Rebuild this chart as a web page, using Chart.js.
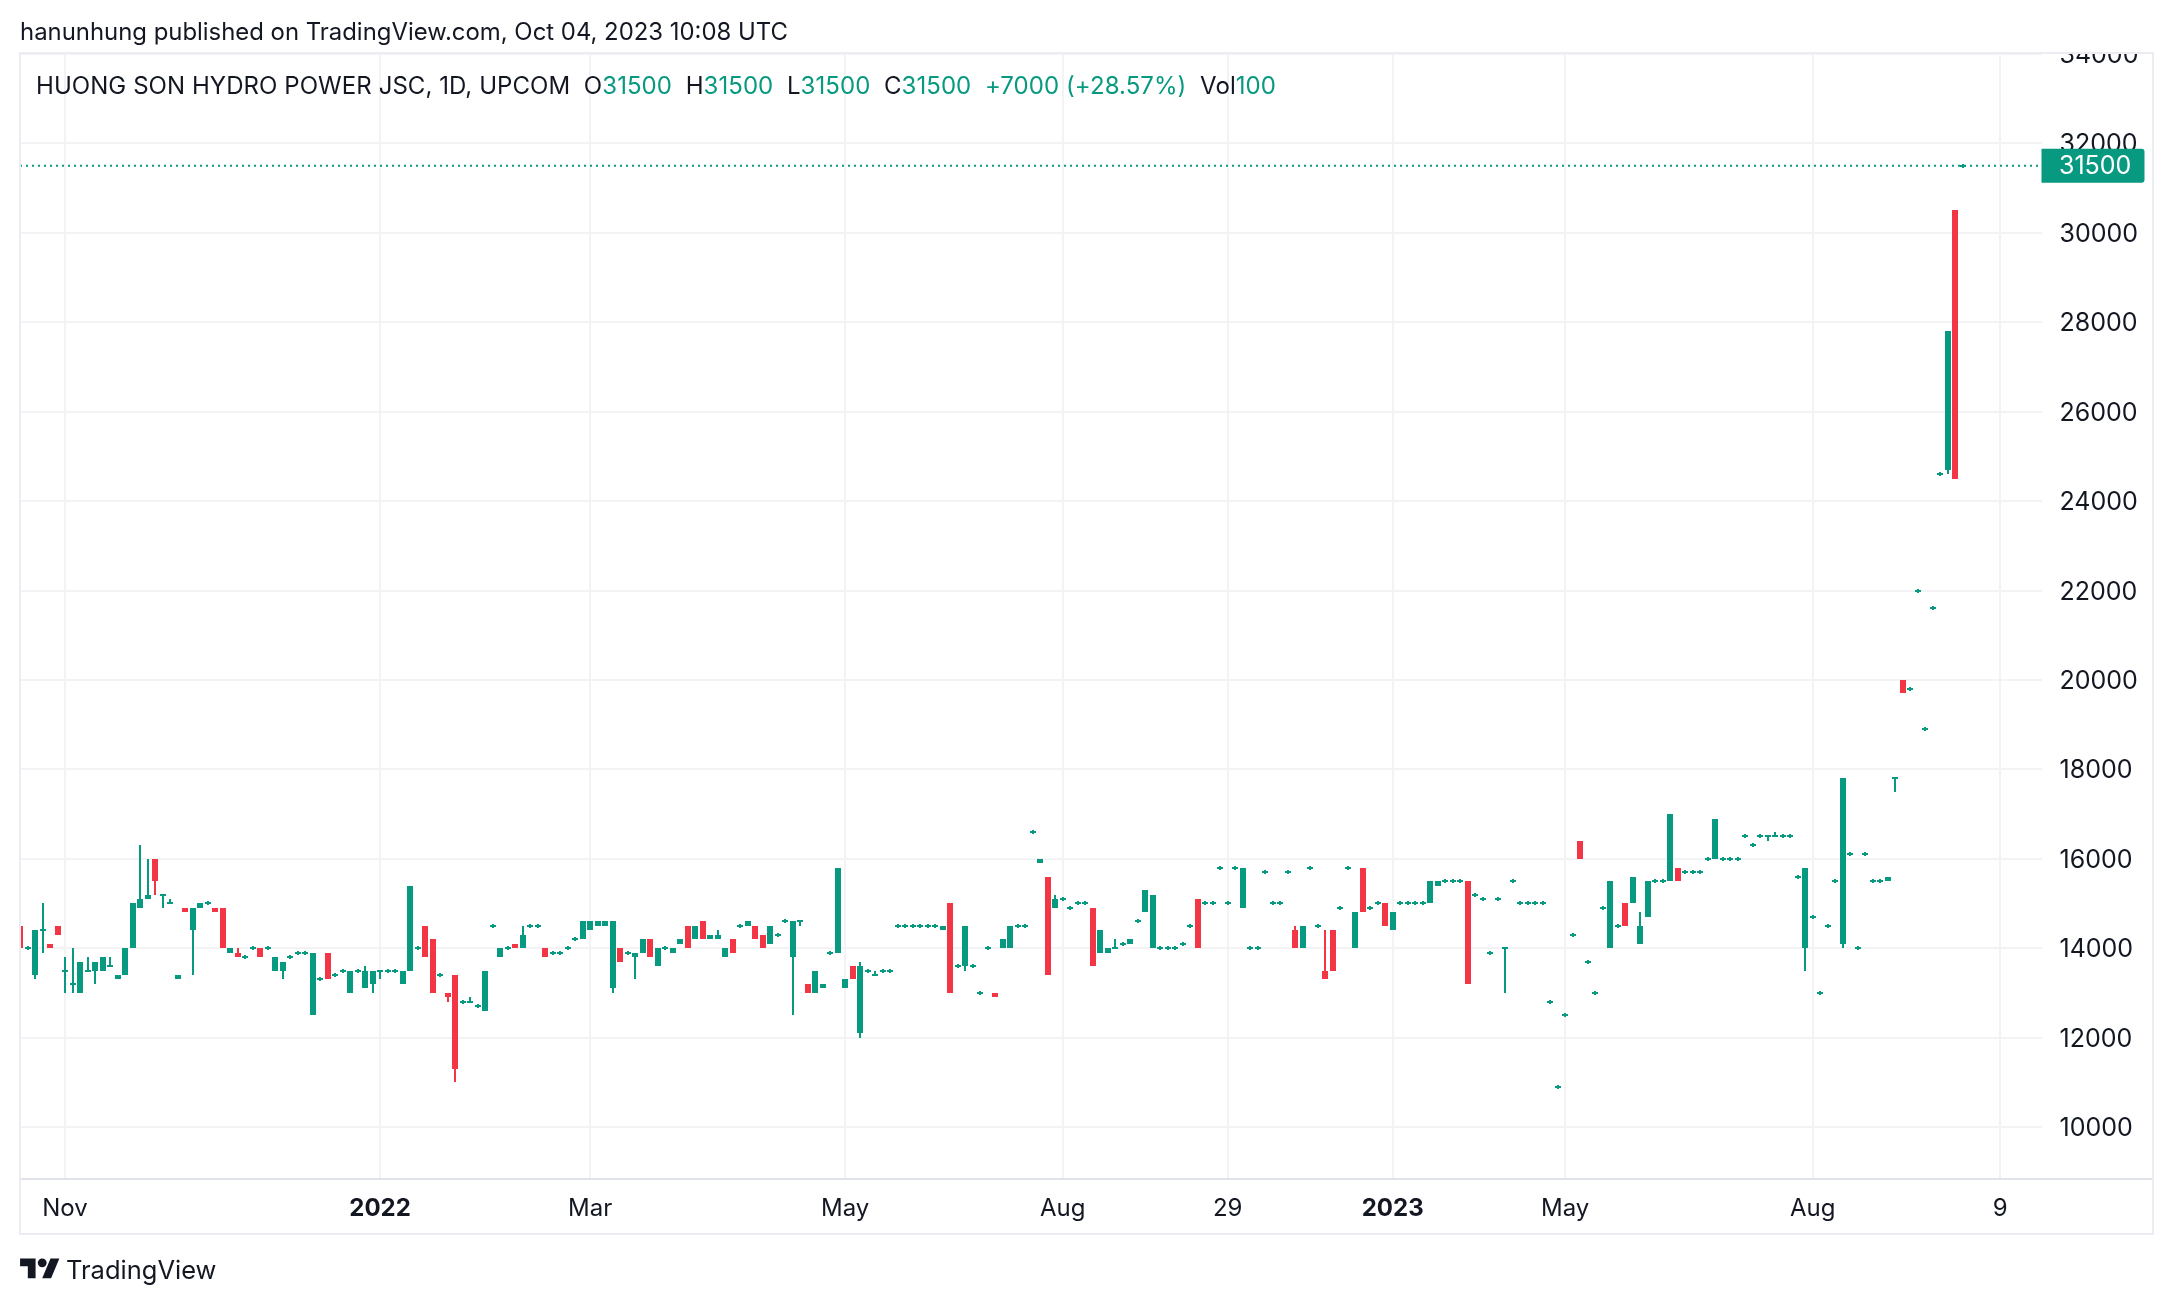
<!DOCTYPE html>
<html>
<head>
<meta charset="utf-8">
<title>HUONG SON HYDRO POWER JSC</title>
<script src="https://cdn.jsdelivr.net/npm/chart.js@4"></script>
<style>
  html, body { margin: 0; padding: 0; background: #fff; }
  body { width: 2174px; height: 1304px; position: relative; overflow: hidden; font-family: Inter, sans-serif; color: #131722; }
  canvas { position: absolute; left: 0; top: 0; }
  .txt { position: absolute; white-space: pre; line-height: 30px; font-size: 24px; }
  #published { left: 20px; top: 17px; font-size: 23.9px; }
  #legend { left: 36px; top: 71px; letter-spacing: 0.06px; }
  #legend span { color: #089981; }
  #logo { position: absolute; left: 20px; top: 1254px; }
  #brand { left: 66px; top: 1255px; font-size: 25.5px; }
</style>
</head>
<body>
<canvas id="grafico" width="2174" height="1304"></canvas>
<div class="txt" id="published">hanunhung published on TradingView.com, Oct 04, 2023 10:08 UTC</div>
<div class="txt" id="legend">HUONG SON HYDRO POWER JSC, 1D, UPCOM  O<span>31500</span>  H<span>31500</span>  L<span>31500</span>  C<span>31500</span>  <span>+7000 (+28.57%)</span>  Vol<span>100</span></div>
<svg id="logo" width="40" height="31" viewBox="0 0 36 28" fill="#131722"><path d="M14 22H7V11H0V4h14v18zM28 22h-8l7.5-18h8L28 22z"/><circle cx="20" cy="8" r="4"/></svg>
<div class="txt" id="brand">TradingView</div>
<script>
// Valores, uma posicao por sessao
const opens = [
  14500,14000,13400,14400,14100,14500,13500,13200,13000,13500,
  13500,13500,13600,13300,13400,14000,14900,15100,16000,15200,
  15000,13300,14900,14400,14900,15000,14900,14900,13900,13900,
  13800,14000,14000,14000,13500,13500,13800,13900,13900,12500,
  13300,13900,13400,13500,13000,13500,13100,13200,13500,13500,
  13500,13200,13500,14000,14500,14200,13400,13000,13400,12800,
  12800,12700,12600,14500,13800,14000,14100,14000,14500,14500,
  14000,13900,13900,14000,14200,14200,14400,14500,14500,13100,
  14000,13900,13800,13900,14200,13600,14000,13900,14100,14500,
  14200,14600,14200,14200,13800,14200,14500,14500,14500,14300,
  14100,14300,14600,13800,14600,13200,13000,13100,13900,13900,
  13100,13600,12100,13500,13400,13500,13500,14500,14500,14500,
  14500,14500,14500,14400,15000,13600,13600,13600,13000,14000,
  13000,14000,14000,14500,14500,16600,15900,15600,14900,15100,
  14900,15000,15000,14900,13900,13900,14000,14100,14100,14600,
  14800,14000,14000,14000,14000,14100,14500,15100,15000,15000,
  15800,15000,15800,14900,14000,14000,15700,15000,15000,15700,
  14400,14000,15800,14500,13500,14400,14900,15800,14000,15800,
  14900,15000,15000,14400,15000,15000,15000,15000,15000,15400,
  15500,15500,15500,15500,15200,15100,13900,15100,14000,15500,
  15000,15000,15000,15000,12800,10900,12500,14300,16400,13700,
  13000,14900,14000,14500,15000,15000,14100,14700,15500,15500,
  15500,15800,15700,15700,15700,16000,16000,16000,16000,16000,
  16500,16300,16500,16500,16500,16500,16500,15600,14000,14700,
  13000,14500,15500,14100,16100,14000,16100,15500,15500,15500,
  17800,20000,19800,22000,18900,21600,24600,24700,30500,31500
];
const highs = [
  14500,14000,14400,15000,14100,14500,13800,14000,13700,13800,
  13700,13800,13800,13400,14000,15000,16300,16000,16000,15200,
  15100,13400,14900,14900,15000,15000,14900,14900,14000,14000,
  13800,14000,14000,14000,13800,13700,13800,13900,13900,13900,
  13300,13900,13400,13500,13500,13500,13600,13500,13500,13500,
  13500,13500,15400,14000,14500,14200,13400,13000,13400,12800,
  12900,12700,13500,14500,14000,14000,14100,14500,14500,14500,
  14000,13900,13900,14000,14200,14600,14600,14600,14600,14600,
  14000,13900,13900,14200,14200,14000,14000,14000,14200,14500,
  14500,14600,14300,14400,14000,14200,14500,14600,14500,14300,
  14500,14300,14600,14600,14600,13200,13500,13200,13900,15800,
  13300,13600,13700,13500,13500,13500,13500,14500,14500,14500,
  14500,14500,14500,14500,15000,13600,14500,13600,13000,14000,
  13000,14200,14500,14500,14500,16600,16000,15600,15200,15100,
  14900,15000,15000,14900,14400,14000,14200,14100,14200,14600,
  15300,15200,14000,14000,14000,14100,14500,15100,15000,15000,
  15800,15000,15800,15800,14000,14000,15700,15000,15000,15700,
  14500,14500,15800,14500,14400,14400,14900,15800,14800,15800,
  14900,15000,15000,14800,15000,15000,15000,15000,15500,15500,
  15500,15500,15500,15500,15200,15100,13900,15100,14000,15500,
  15000,15000,15000,15000,12800,10900,12500,14300,16400,13700,
  13000,14900,15500,14500,15000,15600,14800,15500,15500,15500,
  17000,15800,15700,15700,15700,16000,16900,16000,16000,16000,
  16500,16300,16500,16500,16600,16500,16500,15600,15800,14700,
  13000,14500,15500,17800,16100,14000,16100,15500,15500,15600,
  17800,20000,19800,22000,18900,21600,24600,27800,30500,31500
];
const lows = [
  14000,14000,13300,13900,14000,14300,13000,13000,13000,13500,
  13200,13500,13600,13300,13400,14000,14900,15100,15200,14900,
  15000,13300,14800,13400,14900,15000,14800,14000,13900,13800,
  13800,14000,13800,14000,13500,13300,13800,13900,13900,12500,
  13300,13300,13400,13500,13000,13500,13100,13000,13300,13500,
  13500,13200,13500,14000,13800,13000,13400,12800,11000,12800,
  12800,12700,12600,14500,13800,14000,14000,14000,14500,14500,
  13800,13900,13900,14000,14200,14200,14400,14500,14500,13000,
  13700,13900,13300,13900,13800,13600,14000,13900,14100,14000,
  14200,14200,14200,14200,13800,13900,14500,14500,14200,14000,
  14100,14300,14600,12500,14500,13000,13000,13100,13900,13900,
  13100,13300,12000,13500,13400,13500,13500,14500,14500,14500,
  14500,14500,14500,14400,13000,13600,13500,13600,13000,14000,
  12900,14000,14000,14500,14500,16600,15900,13400,14900,15100,
  14900,15000,15000,13600,13900,13900,14000,14100,14100,14600,
  14800,14000,14000,14000,14000,14100,14500,14000,15000,15000,
  15800,15000,15800,14900,14000,14000,15700,15000,15000,15700,
  14000,14000,15800,14500,13300,13500,14900,15800,14000,14800,
  14900,15000,14500,14400,15000,15000,15000,15000,15000,15400,
  15500,15500,15500,13200,15200,15100,13900,15100,13000,15500,
  15000,15000,15000,15000,12800,10900,12500,14300,16000,13700,
  13000,14900,14000,14500,14500,15000,14100,14700,15500,15500,
  15500,15500,15700,15700,15700,16000,16000,16000,16000,16000,
  16500,16300,16500,16400,16500,16500,16500,15600,13500,14700,
  13000,14500,15500,14000,16100,14000,16100,15500,15500,15500,
  17500,19700,19800,22000,18900,21600,24600,24600,24500,31500
];
const closes = [
  14000,14000,14400,14400,14000,14300,13500,13200,13700,13500,
  13700,13800,13600,13400,14000,15000,15100,15200,15500,15200,
  15000,13400,14800,14900,15000,15000,14800,14000,14000,13800,
  13800,14000,13800,14000,13800,13700,13800,13900,13900,13900,
  13300,13300,13400,13500,13500,13500,13500,13500,13500,13500,
  13500,13500,15400,14000,13800,13000,13400,12900,11300,12800,
  12800,12700,13500,14500,14000,14000,14000,14300,14500,14500,
  13800,13900,13900,14000,14200,14600,14600,14600,14600,14600,
  13700,13900,13900,14200,13800,14000,14000,14000,14200,14000,
  14500,14200,14300,14300,14000,13900,14500,14600,14200,14000,
  14500,14300,14600,14600,14600,13000,13500,13200,13900,15800,
  13300,13300,13600,13500,13400,13500,13500,14500,14500,14500,
  14500,14500,14500,14500,13000,13600,14500,13600,13000,14000,
  12900,14200,14500,14500,14500,16600,16000,13400,15100,15100,
  14900,15000,15000,13600,14400,14000,14000,14100,14200,14600,
  15300,15200,14000,14000,14000,14100,14500,14000,15000,15000,
  15800,15000,15800,15800,14000,14000,15700,15000,15000,15700,
  14000,14500,15800,14500,13300,13500,14900,15800,14800,14800,
  14900,15000,14500,14800,15000,15000,15000,15000,15500,15500,
  15500,15500,15500,13200,15200,15100,13900,15100,14000,15500,
  15000,15000,15000,15000,12800,10900,12500,14300,16000,13700,
  13000,14900,15500,14500,14500,15600,14500,15500,15500,15500,
  17000,15500,15700,15700,15700,16000,16900,16000,16000,16000,
  16500,16300,16500,16500,16500,16500,16500,15600,15800,14700,
  13000,14500,15500,17800,16100,14000,16100,15500,15500,15600,
  17800,19700,19800,22000,18900,21600,24600,27800,24500,31500
];
const yTicks = [10000,12000,14000,16000,18000,20000,22000,24000,26000,28000,30000,32000,34000];
const xTickLabels = ["Nov","2022","Mar","May","Aug","29","2023","May","Aug","9"];
const xTickSlots = [6,48,76,110,139,161,183,206,239,264];
const boldLabels = ["2022","2023"];
const lastPrice = 31500;

const VERDE = "#089981";
const VERMELHO = "#F23645";
const FONTE = "Inter, sans-serif";
const cores = closes.map((c, i) => c >= opens[i] ? VERDE : VERMELHO);

// Arredonda as barras para o pixel e centraliza os dojis no preco
const pixelExato = {
  id: "pixelExato",
  afterDatasetsUpdate(chart) {
    chart.data.datasets.forEach((ds, i) => {
      if (ds.type !== "bar") return;
      chart.getDatasetMeta(i).data.forEach((el, j) => {
        const [a, b] = ds.data[j].y;
        el.x = Math.round(el.x);
        el.y = Math.round(el.y);
        el.base = Math.round(el.base);
        if (a === b) {
          el.y += ds.minBarLength / 2;
          el.base += ds.minBarLength / 2;
        }
      });
    });
  }
};

// Moldura e etiqueta do preco
const moldura = {
  id: "moldura",
  afterDraw(chart) {
    const c = chart.ctx;
    const area = chart.chartArea;
    const y = chart.scales.y.getPixelForValue(lastPrice);
    c.save();
    c.fillStyle = "#fff";
    c.fillRect(area.right, 0, 140, area.top - 1);
    c.fillStyle = "#ecedf3";
    c.fillRect(19, 52, 2135, 2);
    c.fillRect(19, 52, 2, 1183);
    c.fillRect(2152, 52, 2, 1183);
    c.fillRect(19, 1233, 2135, 2);
    c.fillStyle = "#e0e3eb";
    c.fillRect(area.right, 1178, 2152 - area.right, 2);
    c.fillStyle = VERDE;
    c.beginPath();
    c.roundRect(area.right, y - 17, 103, 34, [0, 3, 3, 0]);
    c.fill();
    c.fillStyle = "#fff";
    c.font = "25px " + FONTE;
    c.textBaseline = "middle";
    c.fillText(String(lastPrice), 2059, y + 1);
    c.restore();
  }
};

new Chart(document.getElementById("grafico"), {
  data: {
    datasets: [
      {
        type: "line",
        data: [{ x: 0, y: lastPrice }, { x: 269.5, y: lastPrice }],
        borderColor: VERDE,
        borderWidth: 2,
        borderDash: [2, 4],
        pointRadius: 0
      },
      {
        type: "bar",
        data: closes.map((c, i) => ({ x: i, y: [opens[i], c] })),
        backgroundColor: cores,
        barThickness: 6,
        minBarLength: 2,
        grouped: false,
        inflateAmount: 0
      },
      {
        type: "bar",
        data: closes.map((c, i) => ({ x: i, y: [lows[i], highs[i]] })),
        backgroundColor: cores,
        barThickness: 2,
        minBarLength: 4,
        grouped: false,
        inflateAmount: 0
      }
    ]
  },
  options: {
    responsive: false,
    animation: false,
    devicePixelRatio: 1,
    layout: { padding: { left: 20, right: 20.5, top: 54, bottom: 70 } },
    plugins: { legend: { display: false }, tooltip: { enabled: false } },
    scales: {
      x: {
        type: "linear",
        offset: false,
        min: 0,
        max: 269.5,
        afterBuildTicks: s => { s.ticks = xTickSlots.map(v => ({ value: v })); },
        afterFit: s => { s.height = 55; },
        grid: { offset: false, color: "#f3f3f5", lineWidth: 2, drawTicks: false },
        border: { color: "#e0e3eb", width: 2 },
        ticks: {
          autoSkip: false,
          maxRotation: 0,
          padding: 15,
          color: "#131722",
          font: ctx => ({ family: FONTE, size: 24, weight: boldLabels.includes(ctx.tick && ctx.tick.label) ? "bold" : "normal" }),
          callback: (v, i) => xTickLabels[i]
        }
      },
      y: {
        position: "right",
        min: 8837,
        max: 34000,
        afterBuildTicks: s => { s.ticks = yTicks.map(v => ({ value: v })); },
        afterFit: s => { s.width = 112; },
        grid: { color: "#f3f3f5", lineWidth: 2, drawTicks: false },
        border: { display: false },
        ticks: {
          padding: 18,
          labelOffset: 1.5,
          color: "#131722",
          font: { family: FONTE, size: 25 },
          callback: v => String(v)
        }
      }
    }
  },
  plugins: [pixelExato, moldura]
});
</script>
</body>
</html>
